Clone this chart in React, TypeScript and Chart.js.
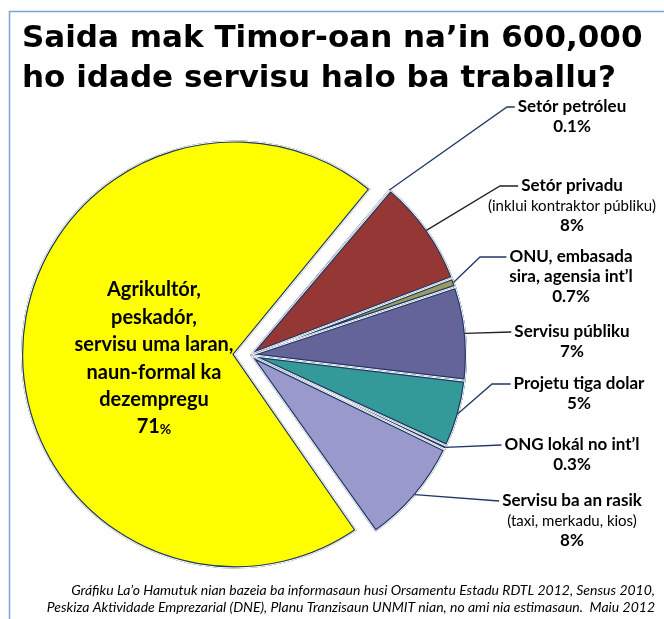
import React, { useEffect, useRef } from 'react';
import { Chart, registerables } from 'chart.js';

Chart.register(...registerables);

// ---------- data ----------
const categories = [
  'Setór petróleu',
  'Setór privadu',
  'ONU, embasada sira, agensia int’l',
  'Servisu públiku',
  'Projetu tiga dolar',
  'ONG lokál no int’l',
  'Servisu ba an rasik',
  'Agrikultór, peskadór, servisu uma laran, naun-formal ka dezempregu',
];
const shares = [0.1, 8, 0.7, 7, 5, 0.3, 8, 71];
const percentLabels = ['0.1%', '8%', '0.7%', '7%', '5%', '0.3%', '8%', '71'];
const labelNames = [
  ['Setór petróleu'],
  ['Setór privadu'],
  ['ONU, embasada', 'sira, agensia int’l'],
  ['Servisu públiku'],
  ['Projetu tiga dolar'],
  ['ONG lokál no int’l'],
  ['Servisu ba an rasik'],
];
const labelNotes = ['', '(inklui kontraktor públiku)', '', '', '', '', '(taxi, merkadu, kios)'];
const bigLabelLines = ['Agrikultór,', 'peskadór,', 'servisu uma laran,', 'naun-formal ka', 'dezempregu'];
const titleLines = ['Saida mak Timor-oan na’in 600,000', 'ho idade servisu halo ba traballu?'];
const footerLines = [
  'Gráfiku La’o Hamutuk nian bazeia ba informasaun husi Orsamentu Estadu RDTL 2012, Sensus 2010,',
  'Peskiza Aktividade Emprezarial (DNE), Planu Tranzisaun UNMIT nian, no ami nia estimasaun.  Maiu 2012',
];

// ---------- styles / layout ----------
const colors = ['#1f3864', '#953735', '#9b9b5f', '#64649a', '#339999', '#d6d6a0', '#9999cc', '#ffff00'];
const NAVY = '#1f3864';
const W = 664;
const H = 619;
const CX = 250;
const CY = 355;
const R = 217;
const BIG_OFFSET = 60; // chart.js translates by offset/4
const BIG_RADIUS = 214;
const LABEL_FONT = 'Lato';
// per right label: center x, first line y, elbow x (or null), line colour
const labelLayout = [
  { x: 572, y: 107, elbow: 507, line: NAVY },
  { x: 572, y: 186, elbow: 500, line: '#222222' },
  { x: 571, y: 257, elbow: 480, line: NAVY },
  { x: 572, y: 332, elbow: null, line: '#222222' },
  { x: 579, y: 384, elbow: 492, line: NAVY },
  { x: 572, y: 445, elbow: null, line: NAVY },
  { x: 572, y: 501, elbow: null, line: NAVY },
];
const LINE_STEP = 20;

function arcGeom(arc: any) {
  const p = arc.getProps(['x', 'y', 'startAngle', 'endAngle', 'outerRadius', 'circumference']);
  const off = (arc.options.offset || 0) / 4;
  const mid = (p.startAngle + p.endAngle) / 2;
  const fix = 1 - Math.sin(Math.min(Math.PI, p.circumference || 0));
  const ro = off * fix;
  const rad = p.outerRadius + ro;
  const alpha = p.endAngle - p.startAngle;
  const beta = Math.max(0.001, alpha * rad - ro / Math.PI) / rad;
  const a0 = p.startAngle + (alpha - beta) / 2;
  const a1 = p.endAngle - (alpha - beta) / 2;
  const cx = p.x + Math.cos(mid) * off;
  const cy = p.y + Math.sin(mid) * off;
  return { cx, cy, rad, a0, a1, mid };
}

const radiusFix = {
  id: 'radiusFix',
  beforeDatasetsDraw(chart: any) {
    const meta = chart.getDatasetMeta(0);
    const el = meta.data[7];
    if (el) el.outerRadius = BIG_RADIUS - BIG_OFFSET / 4;
  },
};

const outlinePlugin = {
  id: 'outline',
  afterDatasetsDraw(chart: any) {
    const ctx = chart.ctx;
    const meta = chart.getDatasetMeta(0);
    meta.data.forEach((arc: any) => {
      const g = arcGeom(arc);
      ctx.save();
      ctx.beginPath();
      ctx.moveTo(g.cx, g.cy);
      ctx.arc(g.cx, g.cy, g.rad, g.a0, g.a1);
      ctx.closePath();
      ctx.clip();
      ctx.lineJoin = 'miter';
      ctx.strokeStyle = NAVY;
      ctx.lineWidth = 4.4;
      ctx.stroke();
      ctx.strokeStyle = '#ffffff';
      ctx.lineWidth = 2;
      ctx.stroke();
      ctx.restore();
    });
  },
};

const textPlugin = {
  id: 'texts',
  afterDraw(chart: any) {
    const ctx = chart.ctx;
    ctx.save();
    // frame
    ctx.strokeStyle = '#7ea1d8';
    ctx.lineWidth = 1.5;
    ctx.beginPath();
    ctx.moveTo(9.5, H);
    ctx.lineTo(9.5, 11.5);
    ctx.lineTo(W, 11.5);
    ctx.stroke();

    // title
    ctx.fillStyle = '#000000';
    ctx.textAlign = 'left';
    ctx.textBaseline = 'alphabetic';
    ctx.font = 'bold 31px "DejaVu Sans"';
    ctx.fillText(titleLines[0], 22, 47);
    ctx.fillText(titleLines[1], 22, 87);

    // right labels
    const meta = chart.getDatasetMeta(0);
    ctx.textBaseline = 'middle';
    ctx.textAlign = 'center';
    labelLayout.forEach((lay, i) => {
      const lines: { t: string; bold: boolean }[] = [];
      labelNames[i].forEach((t) => lines.push({ t, bold: true }));
      if (labelNotes[i]) lines.push({ t: labelNotes[i], bold: false });
      lines.push({ t: percentLabels[i], bold: true });
      lines.forEach((ln, k) => {
        ctx.font = ln.bold ? `bold 17px ${LABEL_FONT}` : `15px ${LABEL_FONT}`;
        ctx.fillStyle = '#000000';
        ctx.fillText(ln.t, lay.x, lay.y + k * LINE_STEP);
      });
      // leader line
      ctx.font = `bold 17px ${LABEL_FONT}`;
      const w0 = ctx.measureText(labelNames[i][0]).width;
      const endX = lay.x - w0 / 2 - 3;
      const g = arcGeom(meta.data[i]);
      const ax = g.cx + Math.cos(g.mid) * (g.rad - 1);
      const ay = g.cy + Math.sin(g.mid) * (g.rad - 1);
      ctx.strokeStyle = lay.line;
      ctx.lineWidth = 1.3;
      ctx.beginPath();
      ctx.moveTo(ax, ay);
      if (lay.elbow !== null) ctx.lineTo(lay.elbow, lay.y);
      ctx.lineTo(endX, lay.y);
      ctx.stroke();
    });

    // big slice label
    ctx.fillStyle = '#000000';
    ctx.font = `bold 20px ${LABEL_FONT}`;
    const bx = 154;
    const by = 290;
    const step = 27.4;
    bigLabelLines.forEach((t, k) => ctx.fillText(t, bx, by + k * step));
    const pctY = by + bigLabelLines.length * step;
    ctx.font = `bold 20px ${LABEL_FONT}`;
    const wNum = ctx.measureText(percentLabels[7]).width;
    ctx.font = `bold 14px ${LABEL_FONT}`;
    const wPct = ctx.measureText('%').width;
    const left = bx - (wNum + wPct) / 2;
    ctx.textAlign = 'left';
    ctx.font = `bold 20px ${LABEL_FONT}`;
    ctx.fillText(percentLabels[7], left, pctY);
    ctx.font = `bold 14px ${LABEL_FONT}`;
    ctx.fillText('%', left + wNum, pctY + 2);

    // footer
    ctx.textAlign = 'right';
    ctx.textBaseline = 'alphabetic';
    ctx.font = `italic 14px ${LABEL_FONT}`;
    ctx.fillText(footerLines[0], 655, 595);
    ctx.fillText(footerLines[1], 655, 612);
    ctx.restore();
  },
};

export default function App() {
  const ref = useRef<HTMLCanvasElement | null>(null);
  useEffect(() => {
    document.body.style.margin = '0';
    const canvas = ref.current;
    if (!canvas) return;
    const chart = new Chart(canvas, {
      type: 'pie',
      data: {
        labels: categories,
        datasets: [
          {
            data: shares,
            backgroundColor: colors,
            borderWidth: 0,
            offset: (c: any) => (c.dataIndex === 7 ? BIG_OFFSET : 0),
          } as any,
        ],
      },
      options: {
        responsive: false,
        animation: false,
        events: [],
        rotation: 40,
        radius: R,
        layout: { padding: { left: 0, right: W - CX * 2, top: CY * 2 - H, bottom: 0 } },
        plugins: {
          legend: { display: false },
          tooltip: { enabled: false },
          title: { display: false },
        },
      } as any,
      plugins: [radiusFix, outlinePlugin, textPlugin],
    });
    return () => chart.destroy();
  }, []);
  return (
    <div style={{ width: W, height: H, background: '#ffffff' }}>
      <canvas ref={ref} width={W} height={H} style={{ display: 'block', width: W, height: H }} />
    </div>
  );
}
